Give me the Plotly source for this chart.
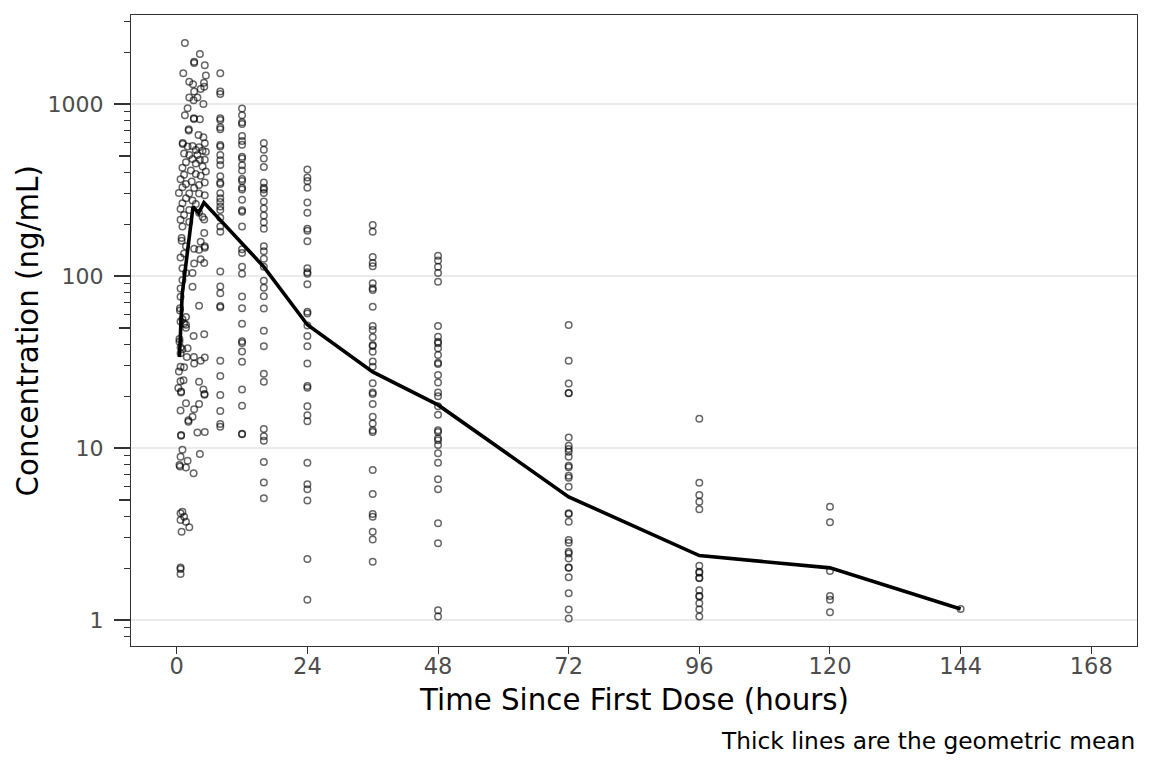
import plotly.graph_objects as go

# individual concentrations (ng/mL) by time since first dose (hours)
early_time = [
    1.5, 4.25, 3.2, 3.2, 5.15, 1.2, 5.35, 2.3, 3.0, 5.0, 5.05, 4.4, 3.2, 2.3, 3.8, 3.1, 4.9, 2.0,
    1.5, 3.15, 3.15, 4.25, 2.2, 2.2, 4.0, 4.9, 1.1, 1.1, 2.9, 2.0, 4.1, 5.15, 3.5, 4.75, 5.35,
    1.35, 2.3, 3.8, 2.9, 4.25, 5.15, 1.7, 3.5, 1.05, 4.75, 2.6, 5.35, 1.35, 3.5, 4.4, 0.7, 2.75,
    5.15, 1.7, 4.1, 1.05, 3.2, 0.4, 2.3, 4.1, 5.15, 1.7, 2.9, 1.05, 3.5, 0.7, 2.3, 4.1, 1.35,
    0.7, 4.75, 2.3, 5.05, 1.05, 5.05, 0.9, 0.9, 1.7, 4.4, 5.15, 5.15, 3.2, 4.1, 1.35, 4.4, 0.7,
    3.2, 5.05, 1.05, 1.7, 2.9, 1.05, 0.7, 2.9, 0.7, 4.1, 0.6, 0.6, 1.7, 1.7, 1.7,
    0.7, 1.05, 1.35, 0.5, 0.5, 3.1, 5.05, 0.7, 1.05, 2.0, 0.7, 3.15, 3.2, 4.4, 5.15, 1.85,
    0.7, 1.35, 0.4, 0.7, 1.25, 4.1, 0.3, 0.8, 0.8, 4.9, 5.1, 5.1, 1.7, 4.1, 3.2, 0.7, 2.15,
    2.15, 2.9, 0.8, 0.8, 3.8, 5.15, 1.05, 4.25, 0.7, 0.5, 0.6, 2.0, 1.7, 3.1, 0.7, 1.05, 1.35,
    0.7, 1.7, 2.3, 0.9, 0.7, 0.7, 0.7,
]
early_conc = [
    2264, 1954, 1760, 1730, 1680, 1508, 1465, 1348, 1300, 1330, 1260, 1220, 1180, 1090, 1090, 1050, 1000, 943,
    860, 826, 818, 815, 713, 700, 660, 640, 593, 585, 570, 565, 560, 590, 540, 535, 527,
    515, 505, 505, 478, 474, 474, 458, 450, 425, 433, 410, 405, 387, 392, 382, 365, 354,
    349, 343, 338, 328, 325, 304, 302, 302, 295, 283, 275, 265, 262, 245, 242, 233, 226,
    212, 220, 206, 213, 194, 178, 166, 160, 149, 158, 149, 146, 144, 142, 135, 125, 128,
    118, 119, 111, 104, 104, 94.7, 84.6, 86.5, 75.8, 67.1, 65, 63, 57.8, 52, 50,
    54.4, 56, 53, 43, 41.5, 44.8, 45.8, 38.4, 37.5, 38.0, 35.6, 33.8, 31, 32.2, 33.6, 33.8,
    29.7, 29.5, 27.8, 24.4, 24.8, 24.3, 22.3, 21.3, 21.0, 21.9, 20.4, 20.6, 18.2, 18.0, 16.8, 16.5, 14.5,
    14.2, 15.2, 11.9, 11.8, 12.3, 12.4, 9.76, 9.23, 8.9, 7.96, 7.8, 8.42, 7.7, 7.13, 4.17, 4.26, 3.98,
    3.81, 3.73, 3.46, 3.26, 2.02, 1.98, 1.85,
]
conc_8h = [1508, 1180, 1143, 826, 807, 733, 713, 578, 565, 505, 470, 442, 380, 349, 343, 303, 283,
           269, 253, 242, 218, 194, 181, 106, 86.8, 79.3, 67, 65.8, 32.2, 26.2, 20.3, 16.4, 13.8, 13.3]
conc_12h = [942, 859, 783, 765, 650, 608, 580, 494, 482, 440, 410, 366, 357, 326, 318, 277, 241, 236,
            194, 143, 136, 113, 103, 76, 65, 52.7, 41.8, 40.8, 36.4, 31.7, 21.9, 17.6, 12.1, 12.0]
conc_16h = [593, 542, 482, 430, 349, 326, 318, 304, 271, 247, 225, 205, 188, 149, 139, 126, 113,
            93.8, 85.5, 76.2, 64.8, 48.0, 39.0, 27.0, 24.3, 12.9, 11.7, 11.0, 8.3, 6.3, 5.1]
conc_24h = [416, 374, 357, 326, 267, 233, 188, 183, 159, 111, 105, 103, 89.5, 61.9, 60.5, 51.5, 44.8,
            39.0, 31.0, 22.9, 22.4, 17.5, 15.5, 14.3, 8.2, 6.16, 5.75, 4.96, 2.26, 1.31]
conc_36h = [198, 181, 129, 119, 114, 90.7, 84.8, 82.9, 66.3, 51.2, 48.5, 44.0, 39.7, 39.2, 36.3, 31.8,
            29.7, 23.8, 21.0, 20.6, 18.0, 15.2, 13.9, 12.7, 12.4, 7.45, 5.40, 4.13, 3.99, 3.26, 2.94, 2.18]
conc_48h = [131, 123, 113, 104, 92.7, 51.2, 44.4, 41.5, 40.6, 38.0, 34.7, 31.3, 30.8, 26.6, 24.0, 21.0,
            20.0, 17.5, 15.6, 12.7, 12.4, 11.4, 11.1, 10.4, 9.31, 8.22, 6.58, 5.75, 3.65, 2.79, 1.14, 1.05]
conc_72h = [51.9, 32.2, 23.7, 20.9, 20.8, 11.5, 10.3, 9.87, 9.52, 8.90, 7.89, 7.73, 6.90, 6.72, 5.96,
            4.17, 4.13, 3.73, 2.92, 2.81, 2.49, 2.44, 2.28, 2.02, 2.01, 1.77, 1.43, 1.15, 1.02]
conc_96h = [14.8, 6.29, 5.33, 4.87, 4.40, 2.07, 1.91, 1.88, 1.76, 1.75, 1.49, 1.38, 1.37, 1.25, 1.15, 1.05]
conc_120h = [4.56, 3.70, 1.93, 1.38, 1.31, 1.11]
conc_144h = [1.16]

later = {8: conc_8h, 12: conc_12h, 16: conc_16h, 24: conc_24h, 36: conc_36h,
         48: conc_48h, 72: conc_72h, 96: conc_96h, 120: conc_120h, 144: conc_144h}

# geometric mean profile
mean_time = [0.5, 1, 3, 4, 5, 8, 12, 16, 24, 36, 48, 72, 96, 120, 144]
mean_conc = [33.8, 78, 253, 232, 267, 212, 156, 113, 52, 27.7, 17.8, 5.2, 2.37, 2.01, 1.16]

x_ticks = [0, 24, 48, 72, 96, 120, 144, 168]
y_major = [1, 10, 100, 1000]
y_mid = [5, 50, 500]
y_minor = [0.8, 0.9, 2, 3, 4, 6, 7, 8, 9, 20, 30, 40, 60, 70, 80, 90,
           200, 300, 400, 600, 700, 800, 900, 2000, 3000]

all_time = list(early_time)
all_conc = list(early_conc)
for t, vals in later.items():
    all_time += [t] * len(vals)
    all_conc += vals

FONT = "DejaVu Sans"
AX = "#333333"
Y_RANGE = [-0.151, 3.517]

fig = go.Figure()
fig.add_trace(go.Scatter(x=all_time, y=all_conc, mode="markers",
                         marker=dict(symbol="circle-open", size=6.5, color="rgba(0,0,0,0.6)",
                                     line=dict(width=1.5)),
                         showlegend=False, hoverinfo="skip"))
fig.add_trace(go.Scatter(x=mean_time, y=mean_conc, mode="lines",
                         line=dict(color="black", width=3.6),
                         showlegend=False, hoverinfo="skip"))
# invisible traces so the log-tick overlay axes get drawn
for ax in ["y2", "y3"]:
    fig.add_trace(go.Scatter(x=mean_time[-1:], y=mean_conc[-1:], yaxis=ax, mode="markers",
                             marker=dict(opacity=0), showlegend=False, hoverinfo="skip"))

tick_axis = dict(type="log", range=Y_RANGE, overlaying="y", side="left", anchor="x",
                 showticklabels=False, ticks="outside", tickcolor=AX,
                 showgrid=False, zeroline=False, showline=False)

fig.update_layout(
    width=1152, height=768,
    margin=dict(l=123, r=23, t=7, b=130),
    paper_bgcolor="white", plot_bgcolor="white",
    font=dict(family=FONT, color="black"),
    xaxis=dict(range=[-8.4, 176.4], tickvals=x_ticks, ticks="outside", ticklen=7,
               tickwidth=1.4, tickcolor=AX, showgrid=False, zeroline=False,
               showline=True, linecolor=AX, linewidth=1.2, mirror=True,
               ticklabelstandoff=-7,
               tickfont=dict(size=22.5, color="#4D4D4D")),
    yaxis=dict(type="log", range=Y_RANGE, tickvals=y_major, ticktext=[str(v) for v in y_major],
               ticks="outside", ticklen=16, tickwidth=1.6, tickcolor=AX,
               showgrid=True, gridcolor="#EBEBEB", gridwidth=1.8, zeroline=False,
               showline=True, linecolor=AX, linewidth=1.2, mirror=True,
               ticklabelstandoff=6,
               tickfont=dict(size=22, color="#4D4D4D")),
    yaxis2=dict(tick_axis, tickvals=y_mid, ticklen=11, tickwidth=1.6),
    yaxis3=dict(tick_axis, tickvals=y_minor, ticklen=6, tickwidth=1.4),
    annotations=[
        dict(text="Time Since First Dose (hours)", xref="paper", yref="paper", x=0.5, y=-0.0856,
             xanchor="center", yanchor="middle", showarrow=False, font=dict(size=29.3)),
        dict(text="Concentration (ng/mL)", xref="paper", yref="paper", x=-0.1024, y=0.5,
             xanchor="center", yanchor="middle", textangle=-90, showarrow=False,
             font=dict(size=29.3)),
        dict(text="Thick lines are the geometric mean", xref="paper", yref="paper", x=1.0,
             y=-0.149, xanchor="right", yanchor="middle", showarrow=False,
             font=dict(size=23.3)),
    ],
)

fig.write_html("out.html")
